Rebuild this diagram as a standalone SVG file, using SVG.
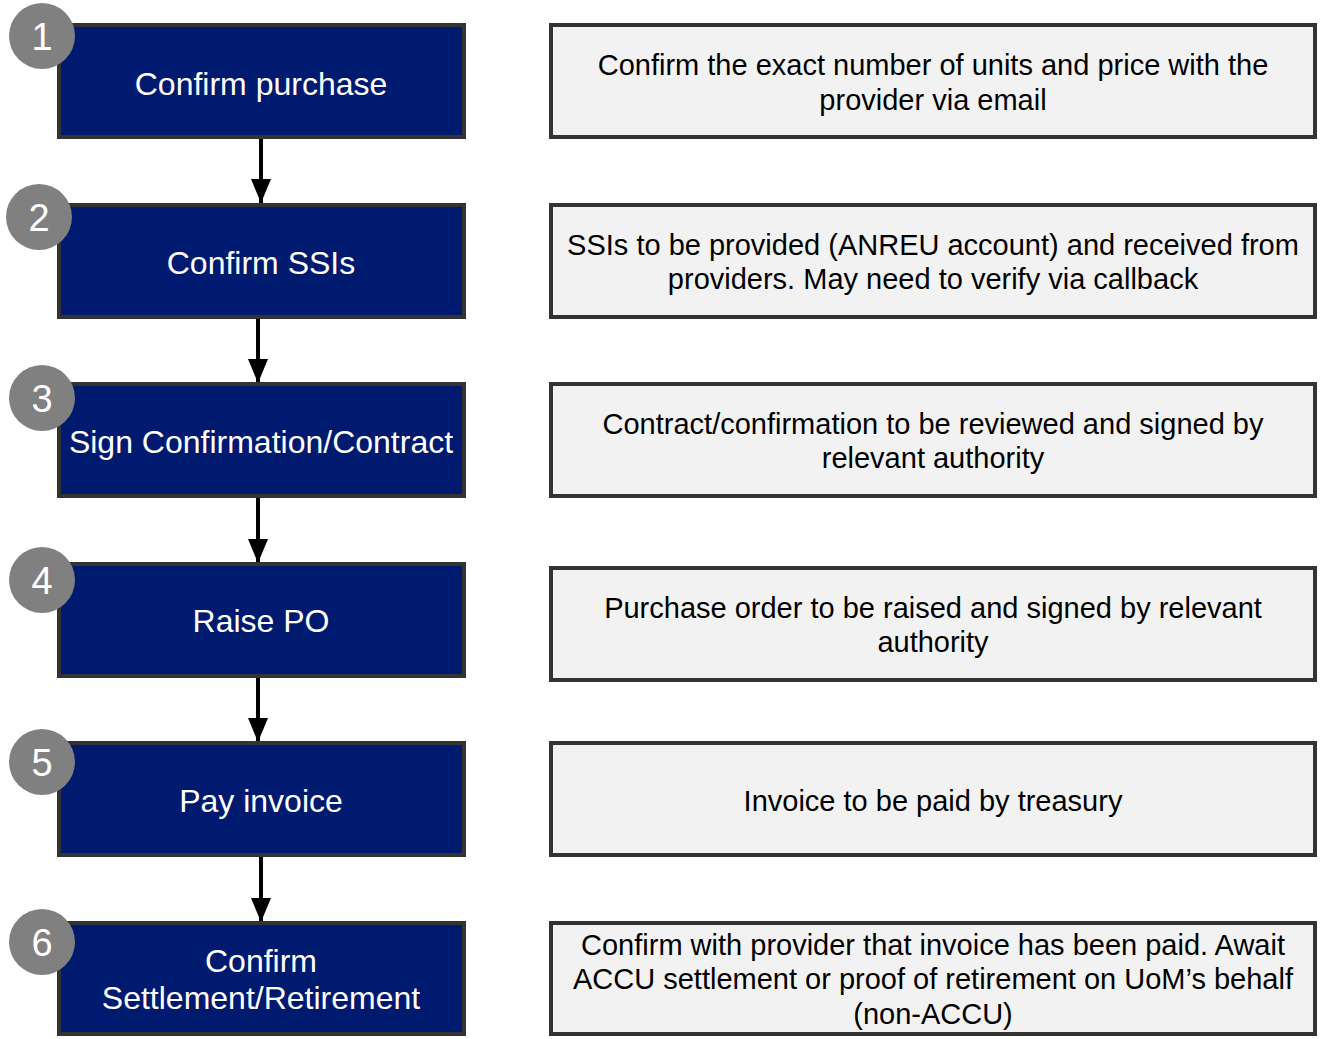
<svg xmlns="http://www.w3.org/2000/svg" width="1324" height="1039" viewBox="0 0 1324 1039">
<style>
.step rect{fill:#001a70;stroke:#333;stroke-width:4}
.step text{fill:#fff;font-family:"Liberation Sans",Arial,sans-serif;font-size:32px;text-anchor:middle}
.badge circle{fill:#808080}
.badge text{fill:#fff;font-family:"Liberation Sans",Arial,sans-serif;font-size:38px;text-anchor:middle}
.desc rect{fill:#f2f2f2;stroke:#333;stroke-width:4}
.desc text{fill:#000;font-family:"Liberation Sans",Arial,sans-serif;font-size:29px;text-anchor:middle}
.conn line{stroke:#000;stroke-width:4}
</style>
<defs>
<marker id="ah" markerWidth="6" markerHeight="5" refX="6" refY="2.5" orient="auto" markerUnits="strokeWidth">
<path d="M0,0 L6,2.5 L0,5 Z" fill="#000"/>
</marker>
</defs>
<rect width="1324" height="1039" fill="#fff"/>
<g id="connectors" class="conn">
<line x1="261" y1="138" x2="261" y2="203" marker-end="url(#ah)"/>
<line x1="258" y1="318" x2="258" y2="383" marker-end="url(#ah)"/>
<line x1="258" y1="497" x2="258" y2="563" marker-end="url(#ah)"/>
<line x1="258" y1="677" x2="258" y2="742" marker-end="url(#ah)"/>
<line x1="261" y1="856" x2="261" y2="922" marker-end="url(#ah)"/>
</g>
<g id="step1" class="step"><rect x="59" y="25" width="405" height="112"/><text x="261" y="95">Confirm purchase</text></g>
<g id="step2" class="step"><rect x="59" y="205" width="405" height="112"/><text x="261" y="274">Confirm SSIs</text></g>
<g id="step3" class="step"><rect x="59" y="384" width="405" height="112"/><text x="261" y="453">Sign Confirmation/Contract</text></g>
<g id="step4" class="step"><rect x="59" y="564" width="405" height="112"/><text x="261" y="632">Raise PO</text></g>
<g id="step5" class="step"><rect x="59" y="743" width="405" height="112"/><text x="261" y="812">Pay invoice</text></g>
<g id="step6" class="step"><rect x="59" y="923" width="405" height="111"/><text x="261" y="972">Confirm</text><text x="261" y="1009">Settlement/Retirement</text></g>
<g id="badge1" class="badge"><circle cx="42" cy="36" r="33"/><text x="42" y="50">1</text></g>
<g id="badge2" class="badge"><circle cx="39" cy="217" r="33"/><text x="39" y="231">2</text></g>
<g id="badge3" class="badge"><circle cx="42" cy="398" r="33"/><text x="42" y="412">3</text></g>
<g id="badge4" class="badge"><circle cx="42" cy="580" r="33"/><text x="42" y="594">4</text></g>
<g id="badge5" class="badge"><circle cx="42" cy="762" r="33"/><text x="42" y="776">5</text></g>
<g id="badge6" class="badge"><circle cx="42" cy="942" r="33"/><text x="42" y="956">6</text></g>
<g id="desc1" class="desc"><rect x="551" y="25" width="764" height="112"/><text x="933" y="75">Confirm the exact number of units and price with the</text><text x="933" y="110">provider via email</text></g>
<g id="desc2" class="desc"><rect x="551" y="205" width="764" height="112"/><text x="933" y="255">SSIs to be provided (ANREU account) and received from</text><text x="933" y="289">providers. May need to verify via callback</text></g>
<g id="desc3" class="desc"><rect x="551" y="384" width="764" height="112"/><text x="933" y="434">Contract/confirmation to be reviewed and signed by</text><text x="933" y="468">relevant authority</text></g>
<g id="desc4" class="desc"><rect x="551" y="568" width="764" height="112"/><text x="933" y="618">Purchase order to be raised and signed by relevant</text><text x="933" y="652">authority</text></g>
<g id="desc5" class="desc"><rect x="551" y="743" width="764" height="112"/><text x="933" y="811">Invoice to be paid by treasury</text></g>
<g id="desc6" class="desc"><rect x="551" y="923" width="764" height="111"/><text x="933" y="955">Confirm with provider that invoice has been paid. Await</text><text x="933" y="989">ACCU settlement or proof of retirement on UoM’s behalf</text><text x="933" y="1024">(non-ACCU)</text></g>
</svg>
